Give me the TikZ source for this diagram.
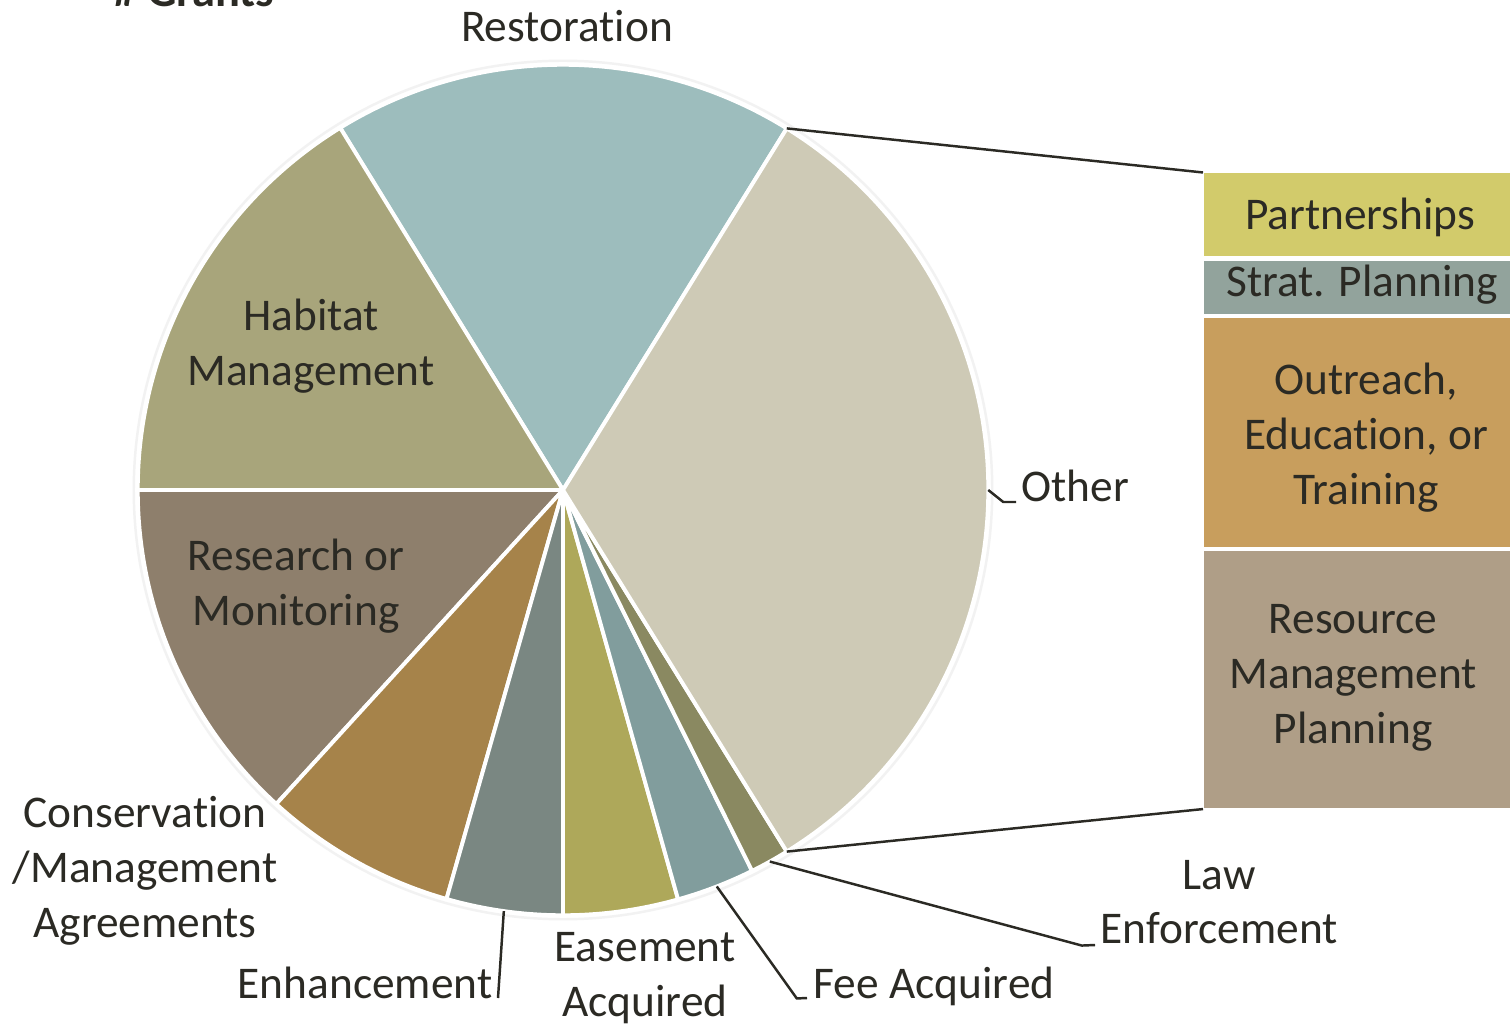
\documentclass[tikz,border=0pt]{standalone}
\usepackage{fontspec}
\setmainfont{Carlito}[Ligatures=NoCommon]
\definecolor{txtcol}{HTML}{2B2A24}
\definecolor{bggray}{HTML}{E5E5E5}
\definecolor{restcol}{HTML}{9DBDBD}
\definecolor{habcol}{HTML}{A8A57B}
\definecolor{rescol}{HTML}{8E7F6C}
\definecolor{conscol}{HTML}{A6834A}
\definecolor{enhcol}{HTML}{7A8782}
\definecolor{easecol}{HTML}{AEA85A}
\definecolor{feecol}{HTML}{819D9D}
\definecolor{lawcol}{HTML}{8A8961}
\definecolor{othcol}{HTML}{CECAB6}
\definecolor{partcol}{HTML}{D2CB6B}
\definecolor{stratcol}{HTML}{92A39C}
\definecolor{outrcol}{HTML}{C89E5D}
\definecolor{rmpcol}{HTML}{AF9E87}
\pgfdeclareradialshading{bgglow}{\pgfpoint{0bp}{0bp}}{color(0bp)=(white); color(27bp)=(white); color(50bp)=(bggray)}
\begin{document}
\begin{tikzpicture}[x=0.01cm,y=0.01cm,
  slice/.style={draw=white,line width=1.1pt,line join=round},
  lbl/.style={font=\fontsize{12.9}{15.6}\selectfont,text=txtcol,inner sep=0pt,align=center},
  bar box/.style={rectangle,anchor=north west,inner sep=0pt,minimum width=3.2cm},
  leader/.style={draw=txtcol,line width=0.7pt}]

  \useasboundingbox (0,0) rectangle (1510,1024);
  \fill[bggray] (0,0) rectangle (1510,1024);
  \shade[shading=bgglow] (560,504) circle (11cm);

  \node[lbl,font=\fontsize{13.2}{16}\selectfont\bfseries,anchor=base west] (title) at (113,1017) {\# Grants};

  \coordinate (c) at (563,534);
  \path[slice,fill=restcol] (c) -- ++(58.25:4.25cm) arc[start angle=58.25,end angle=121.6,radius=4.25cm] -- cycle;
  \path[slice,fill=habcol] (c) -- ++(121.6:4.25cm) arc[start angle=121.6,end angle=180,radius=4.25cm] -- cycle;
  \path[slice,fill=rescol] (c) -- ++(180:4.25cm) arc[start angle=180,end angle=227.6,radius=4.25cm] -- cycle;
  \path[slice,fill=conscol] (c) -- ++(227.6:4.25cm) arc[start angle=227.6,end angle=254.1,radius=4.25cm] -- cycle;
  \path[slice,fill=enhcol] (c) -- ++(254.1:4.25cm) arc[start angle=254.1,end angle=270,radius=4.25cm] -- cycle;
  \path[slice,fill=easecol] (c) -- ++(270:4.25cm) arc[start angle=270,end angle=285.7,radius=4.25cm] -- cycle;
  \path[slice,fill=feecol] (c) -- ++(285.7:4.25cm) arc[start angle=285.7,end angle=296.4,radius=4.25cm] -- cycle;
  \path[slice,fill=lawcol] (c) -- ++(296.4:4.25cm) arc[start angle=296.4,end angle=301.75,radius=4.25cm] -- cycle;
  \path[slice,fill=othcol] (c) -- ++(301.75:4.25cm) arc[start angle=301.75,end angle=418.25,radius=4.25cm] -- cycle;
  \draw[black!5,line width=0.7pt] (c) circle (4.29cm);

  \path (c) ++(58.25:4.25cm) coordinate (rimTop);
  \path (c) ++(301.75:4.25cm) coordinate (rimBot);
  \path (c) ++(0:4.25cm) coordinate (rimOther);
  \path (c) ++(262:4.25cm) coordinate (rimEnh);
  \path (c) ++(291.2:4.25cm) coordinate (rimFee);
  \path (c) ++(299.1:4.25cm) coordinate (rimLaw);

  \node[bar box,fill=partcol,minimum height=0.83cm] (part) at (1203,851.5) {};
  \node[bar box,fill=stratcol,minimum height=0.535cm] (strat) at (1203,764) {};
  \node[bar box,fill=outrcol,minimum height=2.285cm] (outr) at (1203,706.5) {};
  \node[bar box,fill=rmpcol,minimum height=2.575cm] (rmp) at (1203,474) {};

  \node[lbl,anchor=base] (lRest) at (567,982) {Restoration};
  \node[lbl] (lHab) at (311,678) {Habitat\\Management};
  \node[lbl] (lRes) at (296,438) {Research or\\Monitoring};
  \node[lbl,anchor=base west,inner xsep=0.05cm] (lOther) at (1016,522) {Other};
  \node[lbl] (lCons) at (145,153) {Conservation\\/Management\\Agreements};
  \node[lbl,anchor=base east,inner xsep=0.05cm] (lEnh) at (498,26) {Enhancement};
  \node[lbl] (lEase) at (645,45.5) {Easement\\Acquired};
  \node[lbl,anchor=base west,inner xsep=0.06cm] (lFee) at (807,26) {Fee Acquired};
  \node[lbl,anchor=south west,inner xsep=0.05cm] (lLaw) at (1095,79) {Law\\Enforcement};
  \node[lbl,anchor=base] (lPart) at (1360,794) {Partnerships};
  \node[lbl,anchor=base] (lStrat) at (1362,727) {Strat. Planning};
  \node[lbl] (lOutr) at (1366,586.5) {Outreach,\\Education, or\\Training};
  \node[lbl] (lRmp) at (1353,346) {Resource\\Management\\Planning};

  \path[leader]
   (rimTop) edge (part.north west)
   (rimBot) edge (rmp.south west)
   (rimEnh) edge (lEnh.base east);
  \draw[leader] (rimOther) -- ++(15,-12) -- (lOther.base west);
  \draw[leader] (rimFee) -- ++(80,-112) -- (lFee.base west);
  \draw[leader] (rimLaw) -- ++(312,-84) -- (lLaw.south west);
\end{tikzpicture}
\end{document}
